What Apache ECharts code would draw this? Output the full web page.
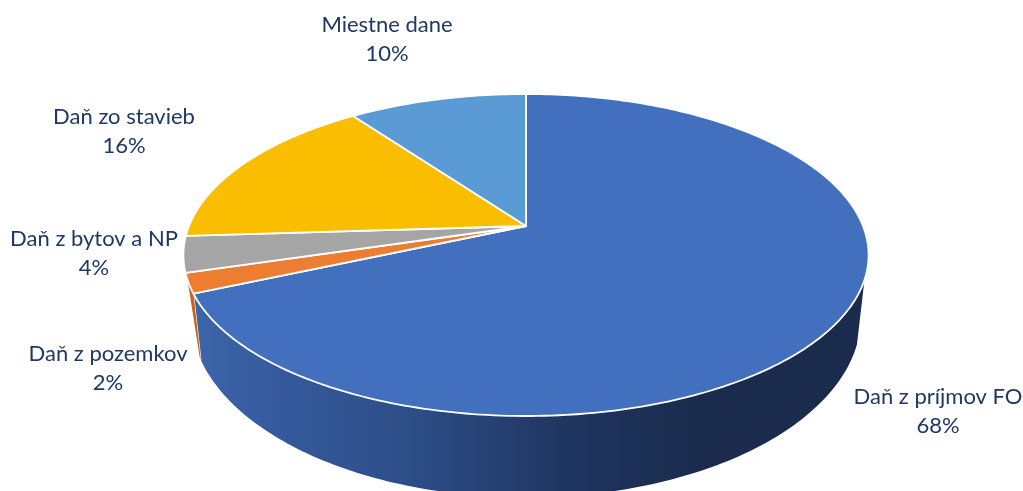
<!DOCTYPE html>
<html>
<head>
<meta charset="utf-8">
<style>html,body{margin:0;padding:0;background:#fff}#c{width:1023px;height:491px}</style>
<script src="https://cdn.jsdelivr.net/npm/echarts@6/dist/echarts.min.js"></script>
</head>
<body>
<div id="c"></div>
<script>
// Data, clockwise from 12 o'clock
const categories = ['Daň z príjmov FO', 'Daň z pozemkov', 'Daň z bytov a NP', 'Daň zo stavieb', 'Miestne dane'];
const values = [68.4, 2.0, 3.6, 16, 10];
const colors = ['#4270BF', '#ED7D31', '#A5A5A5', '#FBBD00', '#5B9BD5'];
const wallColors = [null, '#C5651F', '#7F7F7F', '#BF9000', '#2F6EA5'];
const labelCentres = [[938, 411], [108, 368], [94, 253], [124, 131], [387, 39]];

// Perspective disc: top rim and bottom rim
const cx = 526, k = -0.18;
const topRim = { y0: 226, h: 155.8, r: 337 };
const bottomRim = { y0: 284, h: 175, r: 329.5 };
const wallFrom = 109, wallTo = 251, bottomRimTo = 247;

function rim(p, deg) {
  const t = deg * Math.PI / 180, u = Math.sin(t), v = -Math.cos(t), d = 1 + k * v;
  return [cx + p.r * u / d, p.y0 + p.h * v / d];
}
function arc(p, a, b) {
  const pts = [], n = Math.max(1, Math.ceil(Math.abs(b - a)));
  for (let i = 0; i <= n; i++) pts.push(rim(p, a + (b - a) * i / n));
  return pts;
}
const total = values.reduce((s, v) => s + v, 0);
const starts = [];
values.reduce((s, v, i) => { starts[i] = s / total * 360; return s + v; }, 0);

const wallGradient = new echarts.graphic.LinearGradient(195, 0, 700, 0, [
  { offset: 0, color: '#3C65A8' },
  { offset: 0.17, color: '#35599C' },
  { offset: 0.42, color: '#2D4E88' },
  { offset: 0.74, color: '#1F3560' },
  { offset: 1, color: '#1A2B4D' }
], true);

const chart = echarts.init(document.getElementById('c'), null, { renderer: 'canvas' });
chart.setOption({
  backgroundColor: '#fff',
  animation: false,
  tooltip: { show: false },
  series: [
    {
      name: 'walls', type: 'custom', coordinateSystem: 'none', silent: true, z: 1,
      data: values.map(v => [v]),
      renderItem(params, api) {
        const i = params.dataIndex;
        const a = starts[i], b = a + api.value(0) / total * 360;
        const lo = Math.max(a, wallFrom), hi = Math.min(b, wallTo);
        if (lo >= hi) return { type: 'group', children: [] };
        const pts = arc(topRim, lo, hi).concat(arc(bottomRim, Math.min(hi, Math.max(lo, bottomRimTo)), lo));
        const children = [{
          type: 'polygon', shape: { points: pts },
          style: { fill: i === 0 ? wallGradient : wallColors[i] }
        }];
        if (i === 0) children.push({
          type: 'polyline', shape: { points: [rim(topRim, hi), rim(bottomRim, hi)] },
          style: { stroke: '#fff', lineWidth: 1.2, fill: 'none' }
        });
        return { type: 'group', children };
      }
    },
    {
      name: 'tops', type: 'custom', coordinateSystem: 'none', silent: true, z: 2,
      data: values.map(v => [v]),
      renderItem(params, api) {
        const i = params.dataIndex;
        const a = starts[i], b = a + api.value(0) / total * 360;
        const apex = [cx, topRim.y0];
        return {
          type: 'polygon',
          shape: { points: [apex].concat(arc(topRim, a, b)) },
          style: { fill: colors[i], stroke: '#fff', lineWidth: 1.8, lineJoin: 'round' }
        };
      }
    },
    {
      name: 'labels', type: 'custom', coordinateSystem: 'none', silent: true, z: 3,
      data: values.map(v => [v]),
      renderItem(params, api) {
        const i = params.dataIndex;
        const c = labelCentres[i];
        return {
          type: 'text',
          style: {
            text: categories[i] + '\n' + Math.round(api.value(0)) + '%',
            x: c[0], y: c[1], align: 'center', verticalAlign: 'middle',
            font: '22px Lato', lineHeight: 29, fill: '#1F3864'
          }
        };
      }
    }
  ]
});
</script>
</body>
</html>
